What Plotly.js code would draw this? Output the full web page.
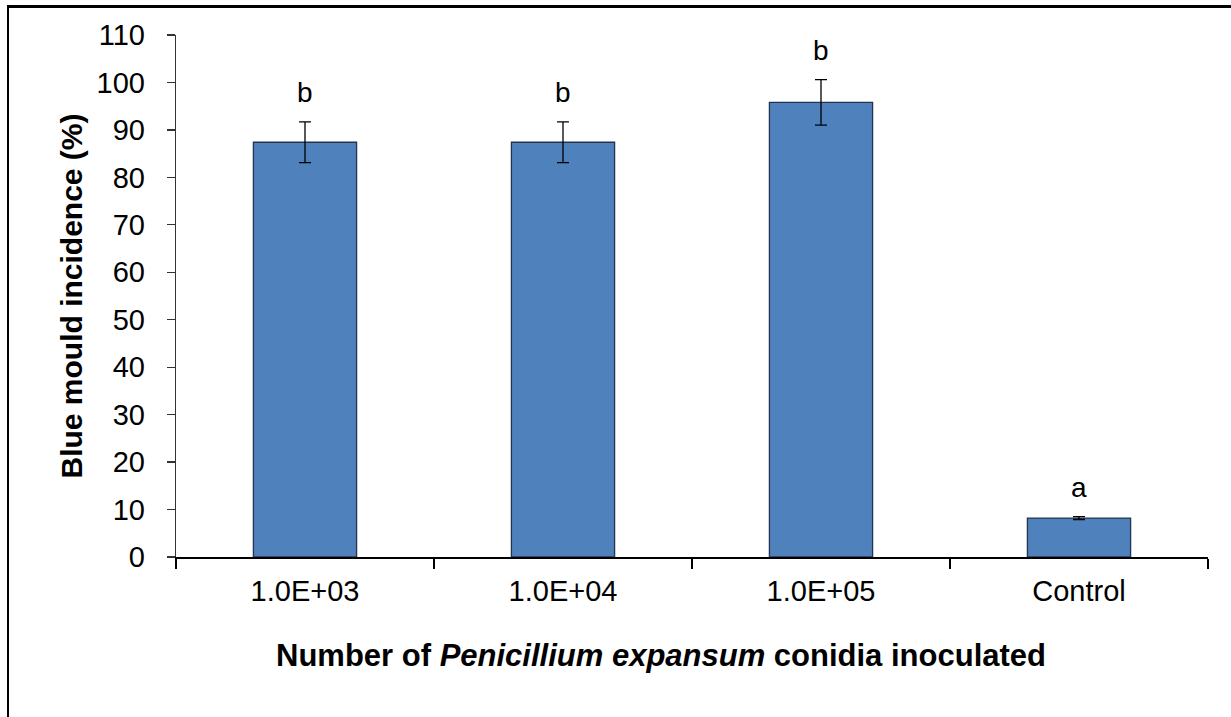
<!DOCTYPE html>
<html>
<head>
<meta charset="utf-8">
<script src="https://cdn.plot.ly/plotly-3.0.1.min.js"></script>
<style>
  html, body { margin: 0; padding: 0; background: #ffffff; }
  #wrap { position: relative; width: 1231px; height: 717px; overflow: hidden; }
  #chart { position: absolute; left: 0; top: 0; width: 1231px; height: 717px; }
  #frame {
    position: absolute; left: 7px; top: 5px; width: 1400px; height: 900px;
    border-left: 2px solid #000; border-top: 3px solid #000;
    pointer-events: none;
  }
</style>
</head>
<body>
<div id="wrap">
  <div id="chart"></div>
  <div id="frame"></div>
</div>
<script>
// Conidia dose groups and the resulting blue mould incidence
const categories = ['1.0E+03', '1.0E+04', '1.0E+05', 'Control'];
const incidence = [87.4, 87.4, 95.8, 8.2];
const stdError = [4.3, 4.3, 4.8, 0.3];
const letters = ['b', 'b', 'b', 'a'];
const yTicks = [0, 10, 20, 30, 40, 50, 60, 70, 80, 90, 100, 110];

const font = 'Liberation Sans, Arial, sans-serif';

const bars = {
  type: 'bar',
  x: categories,
  y: incidence,
  width: 0.4,
  marker: {
    color: '#4F81BD',
    line: { color: '#24344f', width: 1.3 }
  },
  error_y: {
    type: 'data',
    array: stdError,
    visible: true,
    color: '#000000',
    thickness: 1.3,
    width: 6
  },
  hoverinfo: 'skip'
};

// Significance letters sit just above each error bar (x given as category index)
const annotations = categories.map((c, i) => ({
  x: i,
  y: incidence[i] + stdError[i],
  xref: 'x',
  yref: 'y',
  text: letters[i],
  showarrow: false,
  yanchor: 'bottom',
  yshift: 12,
  font: { family: font, size: 28, color: '#000000' }
}));

// Axis caption below the category labels
annotations.push({
  xref: 'paper',
  yref: 'paper',
  x: 0.47,
  y: -0.188,
  xanchor: 'center',
  yanchor: 'middle',
  showarrow: false,
  text: '<b>Number of <i>Penicillium expansum</i> conidia inoculated</b>',
  font: { family: font, size: 31, color: '#000000' }
});

const layout = {
  width: 1231,
  height: 717,
  margin: { l: 176, r: 23, t: 35, b: 160 },
  paper_bgcolor: '#ffffff',
  plot_bgcolor: '#ffffff',
  showlegend: false,
  font: { family: font, color: '#000000' },
  xaxis: {
    type: 'category',
    range: [-0.5, 3.5],
    showline: true,
    linecolor: '#000000',
    linewidth: 1.5,
    ticks: 'outside',
    tickson: 'boundaries',
    ticklen: 10,
    tickcolor: '#000000',
    tickwidth: 1.3,
    ticklabelstandoff: 8,
    tickfont: { family: font, size: 29, color: '#000000' },
    showgrid: false,
    zeroline: false
  },
  yaxis: {
    range: [0, 110],
    tickvals: yTicks,
    showline: true,
    linecolor: '#333333',
    linewidth: 1.3,
    ticks: 'outside',
    ticklen: 8,
    tickcolor: '#333333',
    tickwidth: 1.3,
    ticklabelstandoff: 16,
    tickfont: { family: font, size: 29, color: '#000000' },
    showgrid: false,
    zeroline: false,
    title: {
      text: '<b>Blue mould incidence (%)</b>',
      font: { family: font, size: 30, color: '#000000' },
      standoff: 5
    }
  },
  annotations: annotations
};

Plotly.newPlot('chart', [bars], layout, { displayModeBar: false, staticPlot: true });
</script>
</body>
</html>
